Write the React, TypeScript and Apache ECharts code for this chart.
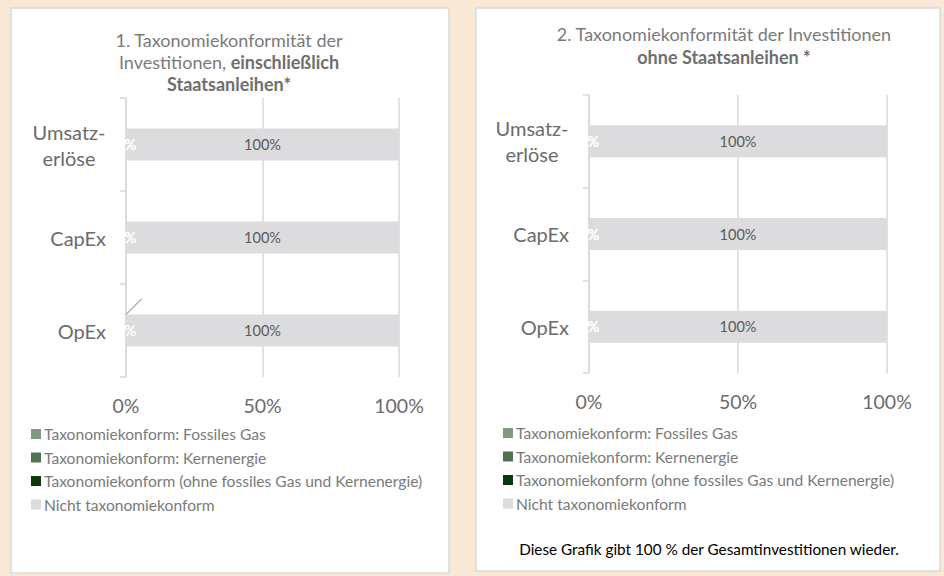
import React, { useEffect, useRef } from "react";
import * as echarts from "echarts";

const categories = ["Umsatz-\nerlöse", "CapEx", "OpEx"];
const seriesNames = [
  "Taxonomiekonform: Fossiles Gas",
  "Taxonomiekonform: Kernenergie",
  "Taxonomiekonform (ohne fossiles Gas und Kernenergie)",
  "Nicht taxonomiekonform",
];
const seriesColors = ["#7F9A80", "#4F7352", "#0A3A0B", "#DCDCDE"];
const xTicks = [0, 50, 100];

// Chart 1: including sovereign bonds
const fossilGas1 = [0, 0, 0];
const nuclear1 = [0, 0, 0];
const aligned1 = [0, 0, 0];
const notAligned1 = [100, 100, 100];

// Chart 2: without sovereign bonds
const fossilGas2 = [0, 0, 0];
const nuclear2 = [0, 0, 0];
const aligned2 = [0, 0, 0];
const notAligned2 = [100, 100, 100];

const FONT = "Lato, 'Noto Sans', sans-serif";
const AXIS_TEXT = "#6B6B6B";
const LIGHT_TEXT = "#7A7A7A";
const LINE = "#D9D9D9";

export default function App() {
  const ref = useRef<HTMLDivElement>(null);

  useEffect(() => {
    if (!ref.current) return;
    const chart = echarts.init(ref.current, undefined, { renderer: "svg" });

    const makeSeries = (idx: number, data: number[][]) =>
      data.map((vals, i) => {
        const isNot = i === 3;
        const s: any = {
          name: seriesNames[i],
          type: "bar",
          stack: "total" + idx,
          xAxisIndex: idx,
          yAxisIndex: idx,
          barWidth: 32,
          data: vals,
          itemStyle: { color: seriesColors[i] },
          label: {
            show: true,
            position: "inside",
            formatter: (p: any) => `${p.value}%`,
            color: isNot ? "#595959" : "#FFFFFF",
            textBorderWidth: 0,
            fontSize: 14.5,
            fontFamily: FONT,
          },
        };
        if (idx === 0 && i === 0) {
          s.labelLayout = (p: any) =>
            p.dataIndex === 2 ? { dx: 26, dy: -32 } : {};
          s.labelLine = {
            show: true,
            lineStyle: { color: "#5E7F60", width: 1 },
          };
        }
        return s;
      });

    const xAxisBase = {
      type: "value",
      min: 0,
      max: 100,
      interval: 50,
      axisLine: { show: false },
      axisTick: { show: false },
      splitLine: { show: true, lineStyle: { color: LINE, width: 1.5 } },
      axisLabel: {
        formatter: (v: number) => (xTicks.includes(v) ? `${v}%` : ""),
        fontSize: 19.5,
        color: AXIS_TEXT,
        fontFamily: FONT,
        margin: 18,
      },
    };
    const yAxisBase = {
      type: "category",
      inverse: true,
      data: categories,
      axisLine: { show: true, lineStyle: { color: LINE, width: 1.5 } },
      axisTick: { show: true, length: 6, lineStyle: { color: LINE, width: 1.5 } },
      axisLabel: {
        fontSize: 20,
        color: AXIS_TEXT,
        fontFamily: FONT,
        margin: 20,
        lineHeight: 26,
        formatter: (v: string) =>
          v.includes("\n")
            ? v
                .split("\n")
                .map((l) => `{c|${l}}`)
                .join("\n")
            : v,
        rich: {
          c: {
            width: 74,
            align: "center",
            fontSize: 20,
            lineHeight: 26,
            color: AXIS_TEXT,
            fontFamily: FONT,
          },
        },
      },
    };

    const legendBase = {
      orient: "vertical",
      icon: "rect",
      itemWidth: 10,
      itemHeight: 10,
      itemGap: 5.5,
      textStyle: {
        fontSize: 15.6,
        color: LIGHT_TEXT,
        fontFamily: FONT,
        lineHeight: 18,
        padding: [0, 0, 0, -2],
      },
      data: seriesNames,
      selectedMode: false,
    };

    chart.setOption({
      animation: false,
      backgroundColor: "#FAE8D6",
      textStyle: { fontFamily: FONT },
      graphic: [
        {
          type: "rect",
          z: -10,
          shape: { x: 11, y: 8, width: 438, height: 565 },
          style: { fill: "#FFFFFF", stroke: LINE, lineWidth: 1.5 },
          silent: true,
        },
        {
          type: "rect",
          z: -10,
          shape: { x: 476, y: 8, width: 464, height: 563 },
          style: { fill: "#FFFFFF", stroke: LINE, lineWidth: 1.5 },
          silent: true,
        },
        {
          type: "text",
          x: 229,
          y: 29,
          style: {
            text:
              "1. Taxonomiekonformität der\nInvestitionen, {b|einschließlich}\n{b|Staatsanleihen*}",
            align: "center",
            fontSize: 18,
            lineHeight: 22,
            fill: LIGHT_TEXT,
            fontFamily: FONT,
            rich: {
              b: { fontWeight: "bold", fontSize: 18, fill: "#6E6E6E", fontFamily: FONT },
            },
          },
        },
        {
          type: "text",
          x: 724,
          y: 22,
          style: {
            text: "2. Taxonomiekonformität der Investitionen\n{b|ohne Staatsanleihen *}",
            align: "center",
            fontSize: 18,
            lineHeight: 23,
            fill: LIGHT_TEXT,
            fontFamily: FONT,
            rich: {
              b: { fontWeight: "bold", fontSize: 18, fill: "#6E6E6E", fontFamily: FONT },
            },
          },
        },
        {
          type: "text",
          x: 709,
          y: 541,
          style: {
            text: "Diese Grafik gibt 100 % der Gesamtinvestitionen wieder.",
            align: "center",
            fontSize: 15.3,
            fill: "#000000",
            fontFamily: FONT,
          },
        },
      ],
      grid: [
        { left: 126, right: 545, top: 98, bottom: 199 },
        { left: 589, right: 57, top: 95, bottom: 203 },
      ],
      xAxis: [
        { ...xAxisBase, gridIndex: 0 },
        { ...xAxisBase, gridIndex: 1 },
      ],
      yAxis: [
        { ...yAxisBase, gridIndex: 0 },
        { ...yAxisBase, gridIndex: 1 },
      ],
      legend: [
        { ...legendBase, left: 26, top: 420 },
        { ...legendBase, left: 498, top: 419 },
      ],
      series: [
        ...makeSeries(0, [fossilGas1, nuclear1, aligned1, notAligned1]),
        ...makeSeries(1, [fossilGas2, nuclear2, aligned2, notAligned2]),
      ],
    });

    return () => chart.dispose();
  }, []);

  return (
    <div
      ref={ref}
      style={{ position: "absolute", left: 0, top: 0, width: 944, height: 576 }}
    />
  );
}
